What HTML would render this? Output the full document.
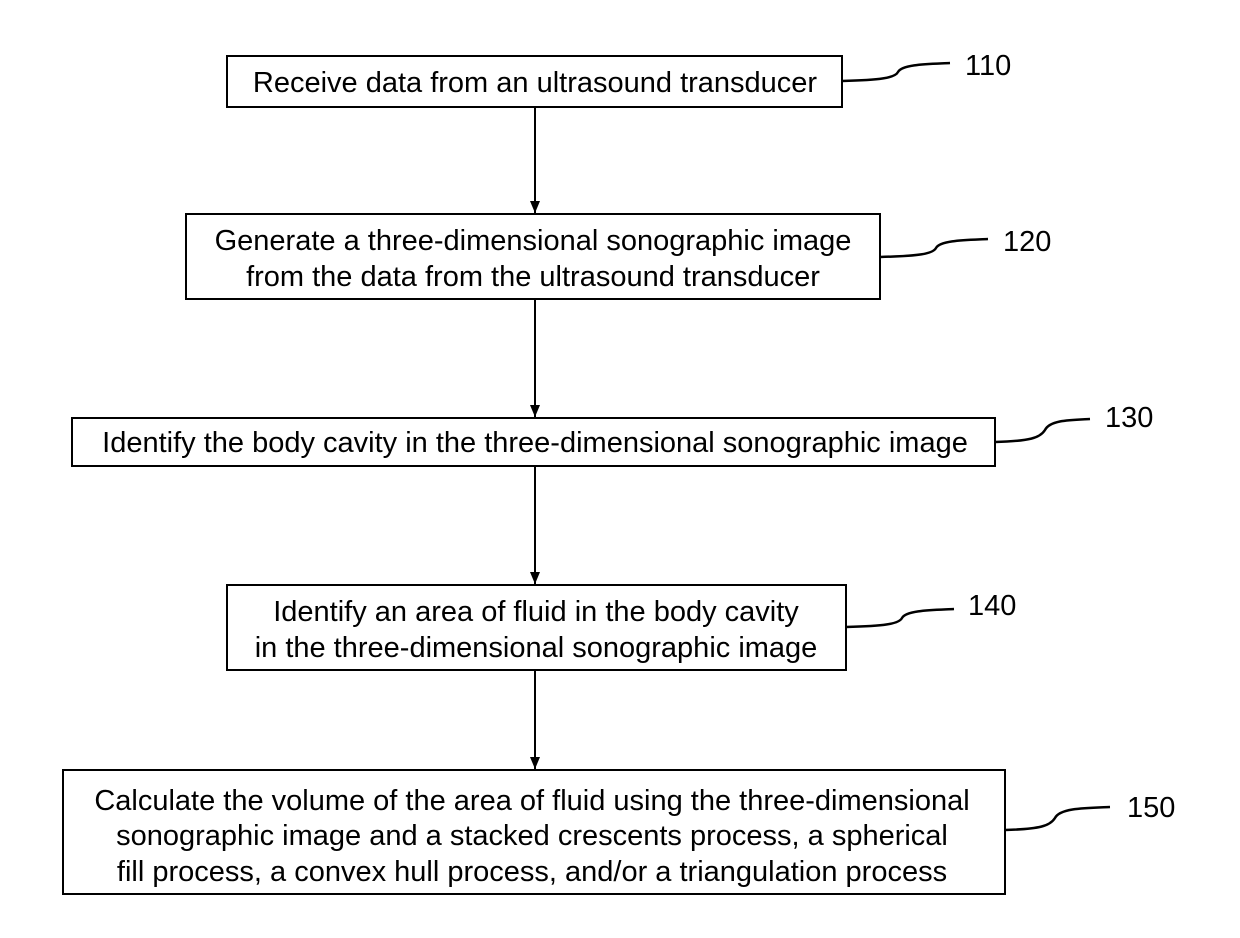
<!DOCTYPE html>
<html><head><style>body{margin:0;background:#fff}svg{display:block}</style></head><body>
<svg width="1240" height="938" xmlns="http://www.w3.org/2000/svg" font-family="Liberation Sans, Arial, sans-serif" font-size="29" fill="#000">
<defs><marker id="a" markerWidth="12" markerHeight="10" refX="12" refY="5" orient="auto" markerUnits="userSpaceOnUse"><path d="M0,0 L12,5 L0,10 Z" fill="#000"/></marker></defs>
<g fill="none" stroke="#000" stroke-width="2">
<rect x="227" y="56" width="615" height="51"/>
<rect x="186" y="214" width="694" height="85"/>
<rect x="72" y="418" width="923" height="48"/>
<rect x="227" y="585" width="619" height="85"/>
<rect x="63" y="770" width="942" height="124"/>
<line x1="535" y1="107" x2="535" y2="213" marker-end="url(#a)"/>
<line x1="535" y1="299" x2="535" y2="417" marker-end="url(#a)"/>
<line x1="535" y1="466" x2="535" y2="584" marker-end="url(#a)"/>
<line x1="535" y1="670" x2="535" y2="769" marker-end="url(#a)"/>
<path d="M842,81 C880,80 895,78 898,72 C902,64 930,64 950,63" stroke-width="2.5"/>
<path d="M880,257 C918,256 933,254 936,248 C940,240 968,240 988,239" stroke-width="2.5"/>
<path d="M995,442 C1030,441 1040,438 1045,430 C1050,420 1070,420 1090,419" stroke-width="2.5"/>
<path d="M846,627 C884,626 899,624 902,618 C906,610 934,610 954,609" stroke-width="2.5"/>
<path d="M1005,830 C1040,829 1050,826 1055,818 C1060,808 1085,808 1110,807" stroke-width="2.5"/>
</g>
<g text-anchor="middle">
<text x="535" y="92">Receive data from an ultrasound transducer</text>
<text x="533" y="250">Generate a three-dimensional sonographic image</text>
<text x="533" y="286">from the data from the ultrasound transducer</text>
<text x="535" y="452">Identify the body cavity in the three-dimensional sonographic image</text>
<text x="536" y="621">Identify an area of fluid in the body cavity</text>
<text x="536" y="657">in the three-dimensional sonographic image</text>
<text x="532" y="810">Calculate the volume of the area of fluid using the three-dimensional</text>
<text x="532" y="845">sonographic image and a stacked crescents process, a spherical</text>
<text x="532" y="881">fill process, a convex hull process, and/or a triangulation process</text>
</g>
<text x="965" y="75">110</text>
<text x="1003" y="251">120</text>
<text x="1105" y="427">130</text>
<text x="968" y="615">140</text>
<text x="1127" y="817">150</text>
</svg>
</body></html>
